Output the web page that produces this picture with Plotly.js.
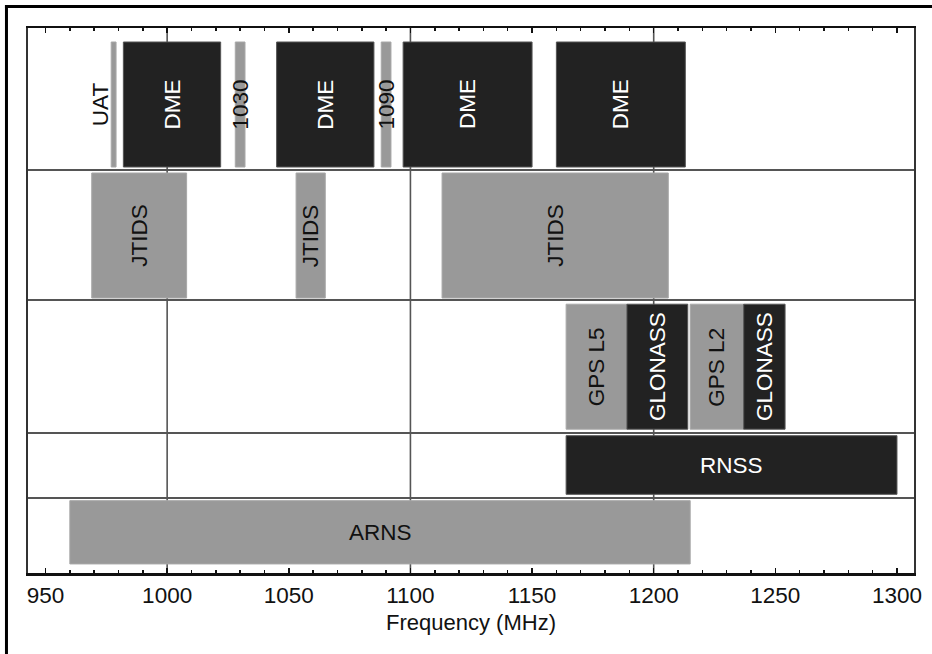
<!DOCTYPE html>
<html>
<head>
<meta charset="utf-8">
<script src="https://cdn.plot.ly/plotly-3.0.1.min.js"></script>
<style>
  html, body { margin: 0; padding: 0; background: #fff; overflow: hidden; }
  #chart { width: 932px; height: 654px; }
</style>
</head>
<body>
<div id="chart"></div>
<script>
// ---- Data (MHz) ----
// Row 1 (top): DME, UAT and transponder channels
const row1Labels = ['UAT', 'DME', '1030', 'DME', '1090', 'DME', 'DME'];
const row1Start  = [977, 982, 1028, 1045, 1088, 1097, 1160];
const row1End    = [979, 1022, 1032, 1085, 1092, 1150, 1213];
const row1Shade  = ['grey', 'dark', 'grey', 'dark', 'grey', 'dark', 'dark'];

// Row 2: JTIDS
const row2Labels = ['JTIDS', 'JTIDS', 'JTIDS'];
const row2Start  = [969, 1053, 1113];
const row2End    = [1008, 1065, 1206];
const row2Shade  = ['grey', 'grey', 'grey'];

// Row 3: GNSS signals
const row3Labels = ['GPS L5', 'GLONASS', 'GPS L2', 'GLONASS'];
const row3Start  = [1164, 1189, 1215, 1237];
const row3End    = [1189, 1214, 1237, 1254];
const row3Shade  = ['grey', 'dark', 'grey', 'dark'];

// Row 4: RNSS allocation
const row4Labels = ['RNSS'];
const row4Start  = [1164];
const row4End    = [1300];
const row4Shade  = ['dark'];

// Row 5 (bottom): ARNS allocation
const row5Labels = ['ARNS'];
const row5Start  = [960];
const row5End    = [1215];
const row5Shade  = ['grey'];

const xTickStep = 50;
const xMinorStep = 10;
const xGridValues = [1000, 1100, 1200];
const xAxisTitle = 'Frequency (MHz)';

// ---- Layout geometry (vertical units, bottom = 0) ----
const rowEdges = [75, 140, 273, 403];           // separators between rows
const rowGeom = [                                 // center, bar height, rotated label?
  {c: 468.5, h: 125, rot: true},
  {c: 337.5, h: 125, rot: true},
  {c: 206.3, h: 125, rot: true},
  {c: 108.0, h: 58.6, rot: false},
  {c: 40.7,  h: 63.3, rot: false}
];
const shadeColor = {dark: '#222222', grey: '#999999'};
const shadeEdge  = {dark: '#555555', grey: '#a8a8a8'};
const shadeText  = {dark: '#ffffff', grey: '#111111'};
const FONT = '"Liberation Sans", Arial, Helvetica, sans-serif';
const LABEL_SIZE = 22.5;

const rows = [
  {labels: row1Labels, start: row1Start, end: row1End, shade: row1Shade},
  {labels: row2Labels, start: row2Start, end: row2End, shade: row2Shade},
  {labels: row3Labels, start: row3Start, end: row3End, shade: row3Shade},
  {labels: row4Labels, start: row4Start, end: row4End, shade: row4Shade},
  {labels: row5Labels, start: row5Start, end: row5End, shade: row5Shade}
];

const traces = [];
const annotations = [];
['grey', 'dark'].forEach(function (sh) {
  const t = {type: 'bar', orientation: 'h', x: [], base: [], y: [], width: [],
    marker: {color: shadeColor[sh], line: {color: shadeEdge[sh], width: 1}},
    hoverinfo: 'skip', showlegend: false};
  rows.forEach(function (r, ri) {
    r.labels.forEach(function (lab, i) {
      if (r.shade[i] !== sh) return;
      t.x.push(r.end[i] - r.start[i]);
      t.base.push(r.start[i]);
      t.y.push(rowGeom[ri].c);
      t.width.push(rowGeom[ri].h);
    });
  });
  traces.push(t);
});

rows.forEach(function (r, ri) {
  r.labels.forEach(function (lab, i) {
    const w = r.end[i] - r.start[i];
    const thin = w < 6;
    const outside = lab === 'UAT';
    annotations.push({
      x: (r.start[i] + r.end[i]) / 2, y: rowGeom[ri].c, xref: 'x', yref: 'y',
      text: lab, showarrow: false, textangle: rowGeom[ri].rot ? -90 : 0,
      xshift: outside ? -13 : 0,
      font: {family: FONT, size: LABEL_SIZE, color: thin ? '#111111' : shadeText[r.shade[i]]}
    });
  });
});

const shapes = xGridValues.map(function (v) {
  return {type: 'line', xref: 'x', yref: 'paper', x0: v, x1: v, y0: 0, y1: 1,
          layer: 'below', line: {color: '#555', width: 1.6}};
});
// outer picture frame (left and top edges), in paper units outside the plot area
shapes.push({type: 'line', xref: 'paper', yref: 'paper', x0: -0.0243, x1: -0.0243, y0: -0.2, y1: 1.0422,
             line: {color: '#000', width: 3}});
shapes.push({type: 'line', xref: 'paper', yref: 'paper', x0: -0.0260, x1: 1.05, y0: 1.0394, y1: 1.0394,
             line: {color: '#000', width: 3}});

const layout = {
  width: 932, height: 654,
  margin: {l: 28, r: 18, t: 28, b: 81},
  paper_bgcolor: '#ffffff', plot_bgcolor: '#ffffff',
  font: {family: FONT, size: 22, color: '#111'},
  barmode: 'overlay',
  showlegend: false,
  xaxis: {
    range: [942.8, 1307], tick0: 950, dtick: xTickStep,
    ticks: 'inside', ticklen: 5, tickwidth: 1.5, tickcolor: '#111',
    minor: {dtick: xMinorStep, ticks: 'inside', ticklen: 3, tickwidth: 1.5, tickcolor: '#111', showgrid: false},
    showgrid: false, zeroline: false,
    showline: true, linecolor: '#111', linewidth: 2.5, mirror: 'ticks',
    tickfont: {family: FONT, size: 22.5, color: '#111'},
    title: {text: xAxisTitle, font: {family: FONT, size: 22, color: '#111'}, standoff: 8},
    fixedrange: true
  },
  yaxis: {
    range: [0, 545], tickvals: rowEdges, showticklabels: false, ticks: '',
    showgrid: true, gridcolor: '#555', gridwidth: 1.6, zeroline: false,
    showline: true, linecolor: '#333', linewidth: 2, mirror: true, fixedrange: true
  },
  shapes: shapes,
  annotations: annotations
};

Plotly.newPlot('chart', traces, layout, {displayModeBar: false, staticPlot: true});
</script>
</body>
</html>
